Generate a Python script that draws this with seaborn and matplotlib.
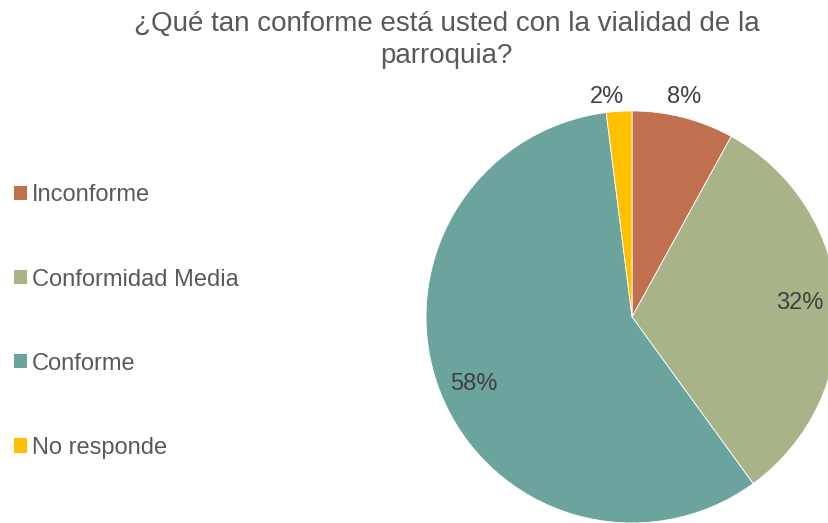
import matplotlib
matplotlib.use("Agg")
import matplotlib.pyplot as plt
from matplotlib.patches import Patch
import seaborn as sns

# data
categories = ["Inconforme", "Conformidad Media", "Conforme", "No responde"]
percentages = [8, 32, 58, 2]
colors = ["#C0704F", "#A8B388", "#6BA39D", "#FFC000"]
title = "¿Qué tan conforme está usted con la vialidad de la\nparroquia?"

# label anchors (axis units, pie radius = 1), like Excel "best fit"
label_pos = [(0.252, 1.068), (0.816, 0.068), (-0.767, -0.325), (-0.121, 1.068)]

sns.set_theme(style="white")
plt.rcParams["font.family"] = ["Liberation Sans", "DejaVu Sans"]

palette = sns.color_palette(colors)

fig = plt.figure(figsize=(8.29, 5.23), dpi=100)
fig.patch.set_facecolor("white")

# pie axes: center ~ (632, 317) px, radius ~ 206 px
ax = fig.add_axes([0.5139, 0.0, 0.497, 0.788])
wedges, _ = ax.pie(percentages, colors=palette, startangle=90, counterclock=False,
                   wedgeprops=dict(edgecolor="white", linewidth=0.6))
ax.set_xlim(-1, 1)
ax.set_ylim(-1, 1)
ax.set_aspect("equal")
ax.axis("off")

for (x, y), p in zip(label_pos, percentages):
    ax.text(x, y, f"{p}%", ha="center", va="center", fontsize=17, color="#404040")

fig.text(0.539, 0.979, title, ha="center", va="top", fontsize=20,
         color="#595959", linespacing=1.32)

handles = [Patch(facecolor=c, edgecolor="none") for c in palette]
fig.legend(handles, categories, loc="center left", bbox_to_anchor=(-0.0083, 0.385),
           frameon=False, fontsize=17, labelcolor="#595959",
           handlelength=0.55, handleheight=0.55, handletextpad=0.2, labelspacing=2.63)

fig.savefig("out.png", dpi=100)
